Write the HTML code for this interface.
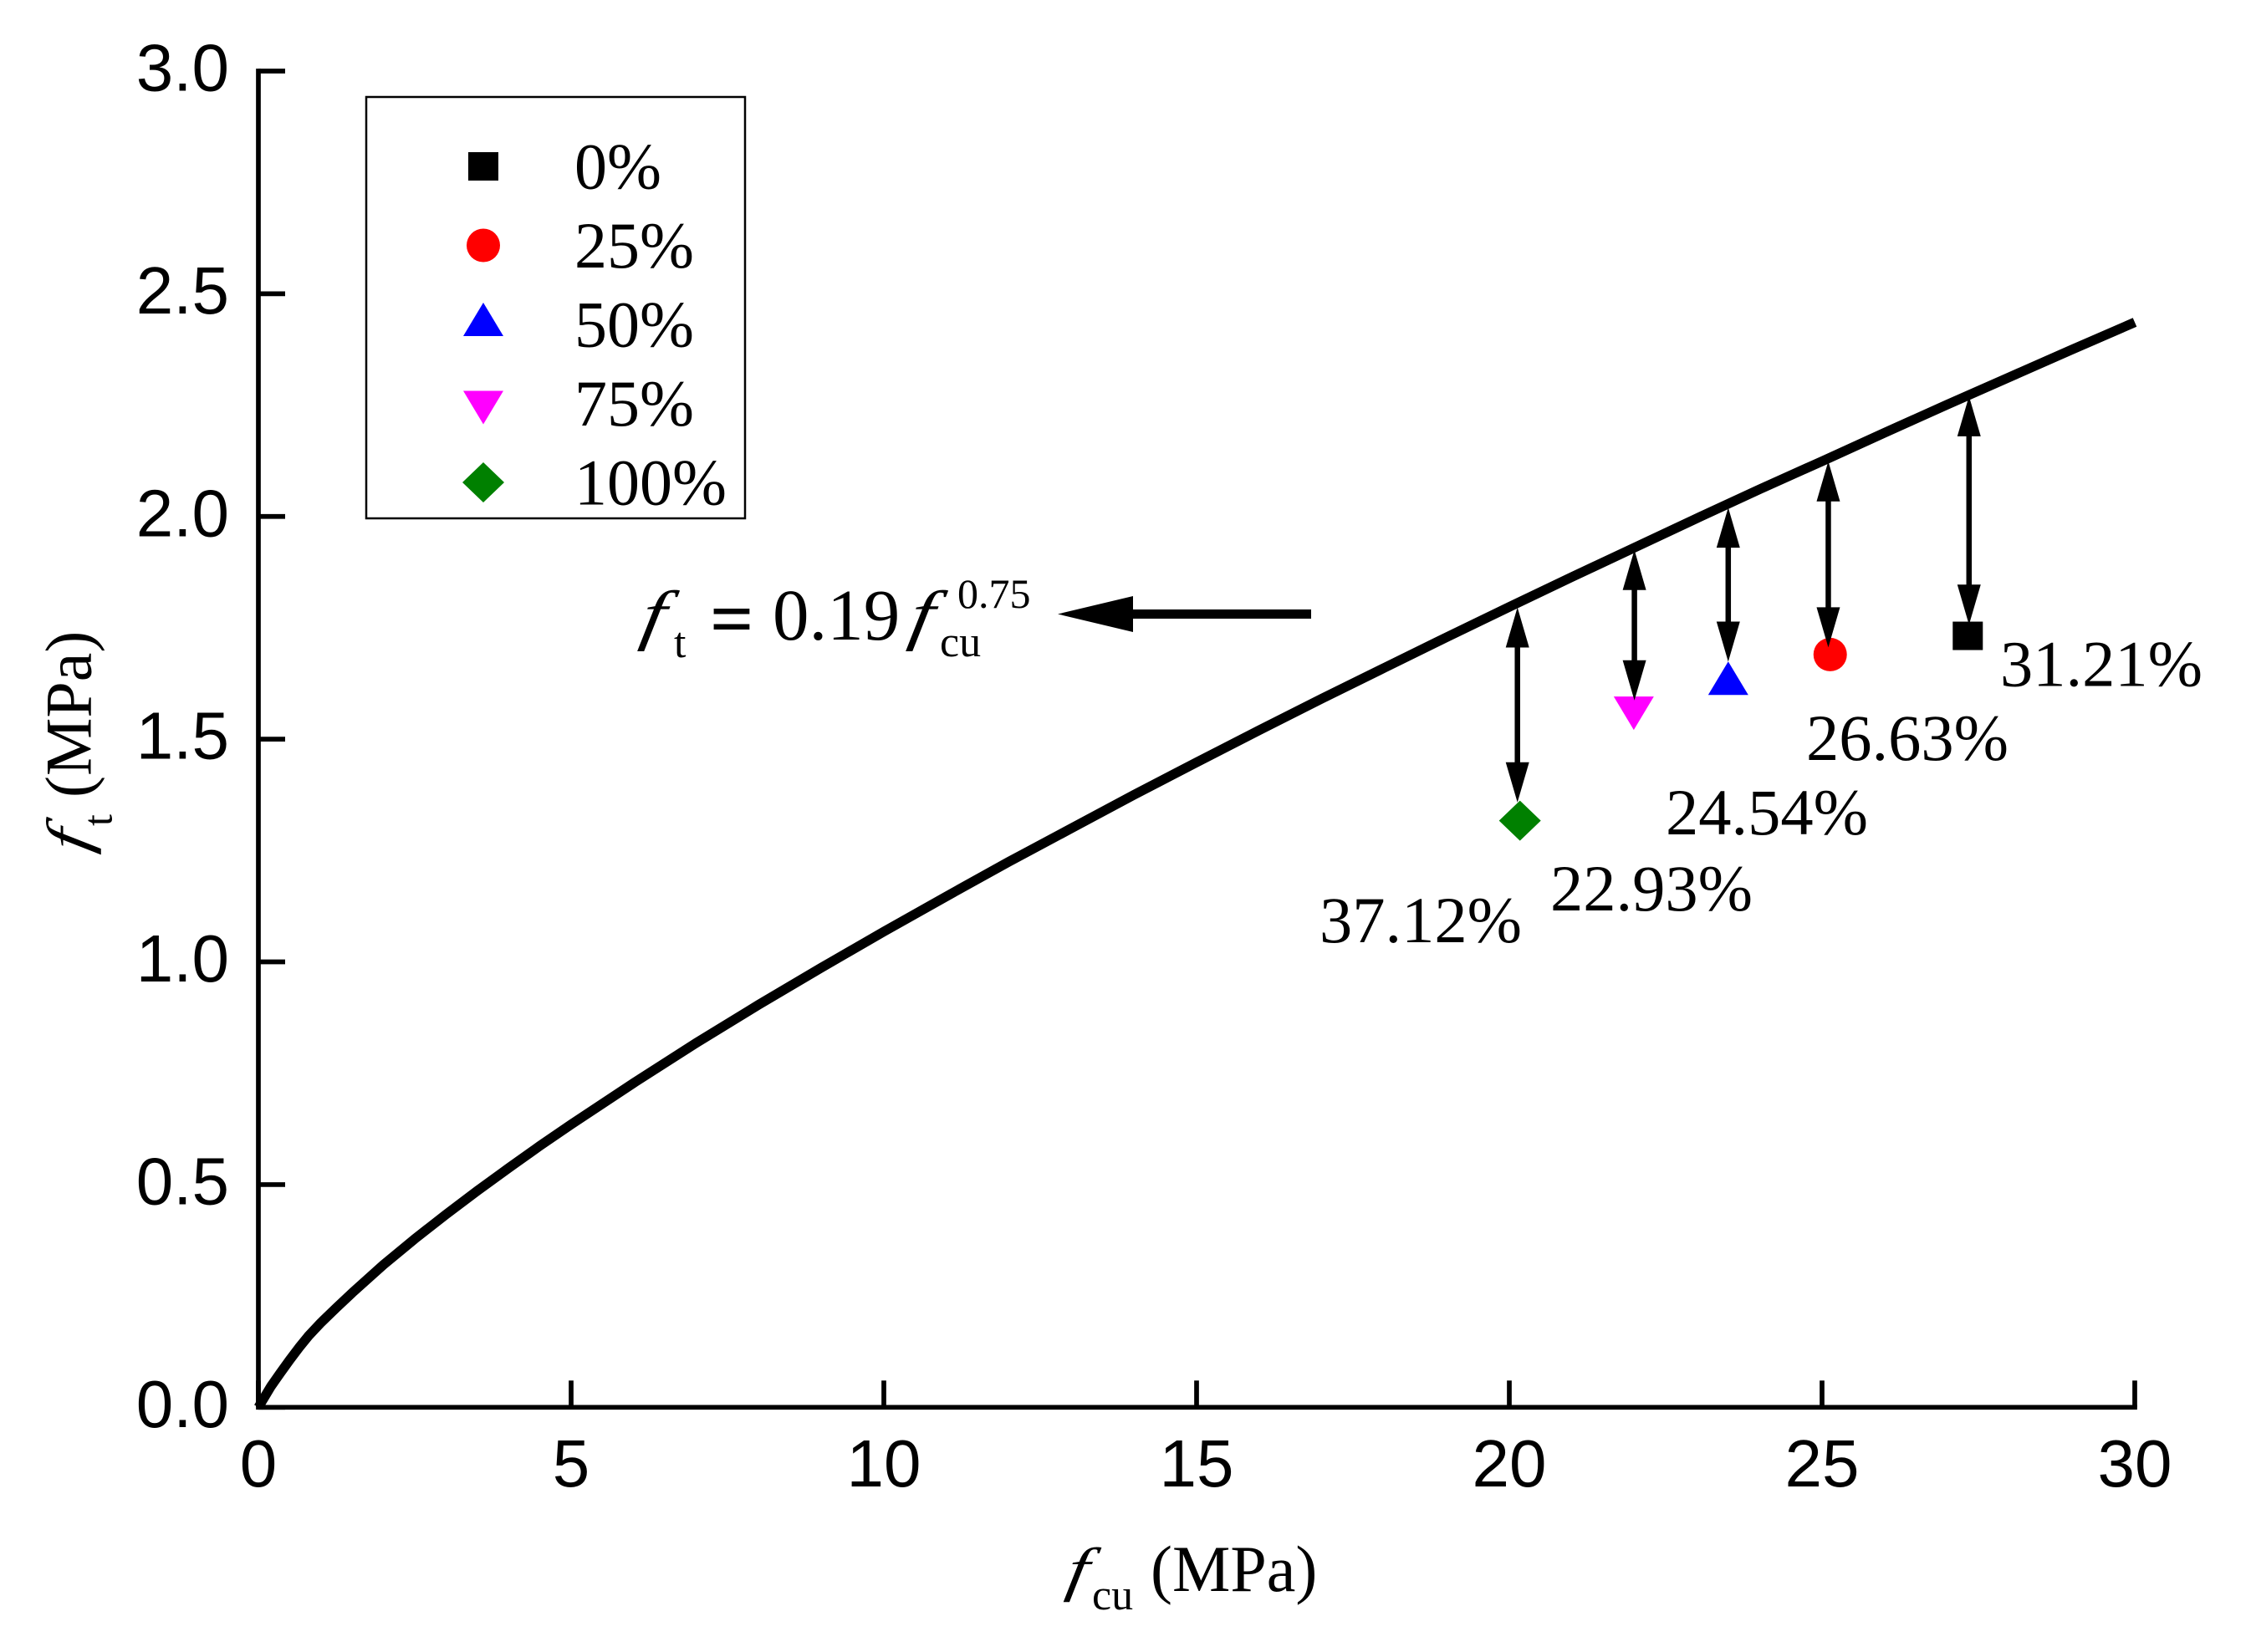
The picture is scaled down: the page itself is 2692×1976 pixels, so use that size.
<!DOCTYPE html>
<html lang="en">
<head>
<meta charset="utf-8">
<title>Tensile vs compressive strength</title>
<style>
html,body{margin:0;padding:0;background:#fff}
svg{display:block}
.sans{font-family:"Liberation Sans",sans-serif}
.serif{font-family:"Liberation Serif",serif}
text{fill:#000}
</style>
</head>
<body>
<svg id="chart" xmlns="http://www.w3.org/2000/svg" width="2692" height="1976" viewBox="0 0 2692 1976">
  <rect x="0" y="0" width="2692" height="1976" fill="#fff"/>
  <g id="axes"></g>
  <g id="curve-layer"></g>
  <g id="marker-layer"></g>
  <g id="arrow-layer"></g>

  <g class="serif" font-size="78.5">
    <text x="2392" y="820.5">31.21%</text>
    <text x="2160" y="909">26.63%</text>
    <text x="1992" y="998">24.54%</text>
    <text x="1854" y="1089">22.93%</text>
    <text x="1578" y="1127">37.12%</text>
  </g>

  <g class="serif">
    <text transform="translate(764,762) skewX(-10) scale(1.15,0.92)" font-size="87" font-style="italic">f</text>
    <text x="806" y="786" font-size="52">t</text>
    <text x="849" y="771" font-size="92" font-weight="bold">=</text>
    <text x="924" y="765" font-size="87">0.19</text>
    <text transform="translate(1085,762) skewX(-10) scale(1.15,0.92)" font-size="87" font-style="italic">f</text>
    <text x="1124" y="785" font-size="52">cu</text>
    <text x="1145" y="727" font-size="50">0.75</text>
    <polygon points="1265,734.5 1355,713 1355,756" fill="#000"/>
    <rect x="1350" y="729" width="218" height="11" fill="#000"/>
  </g>

  <g class="serif">
    <text transform="translate(1273.4,1901) skewX(-10) scale(1.15,0.92)" font-size="78" font-style="italic">f</text>
    <text x="1306" y="1925" font-size="52">cu</text>
    <text x="1376" y="1903" font-size="78">(MPa)</text>
  </g>

  <g class="serif" transform="translate(108.3,1025) rotate(-90)">
    <text transform="translate(4.2,-3) skewX(-10) scale(1.15,0.92)" font-size="78" font-style="italic">f</text>
    <text x="37" y="25" font-size="50">t</text>
    <text x="71" y="0" font-size="78">(MPa)</text>
  </g>

  <g id="legend">
    <rect x="438" y="116" width="453" height="504" fill="#fff" stroke="#000" stroke-width="2.5"/>
  </g>
</svg>

<script>
// Axis ticks
const xTickLabels = [0, 5, 10, 15, 20, 25, 30];
const yTickLabels = ['0.0', '0.5', '1.0', '1.5', '2.0', '2.5', '3.0'];

// Fitted strength curve
const curveX = [0, 0.2, 0.35, 0.5, 0.65, 0.8, 1, 1.25, 1.5, 2, 2.5, 3, 3.5, 4, 4.5, 5, 6, 7, 8, 9, 10, 11, 12, 13, 14, 15, 16, 17, 18, 19, 20, 21, 22, 23, 24, 25, 26, 27, 28, 29, 30];
const curveY = [0, 0.047, 0.077, 0.106, 0.134, 0.16, 0.19, 0.224, 0.257, 0.32, 0.378, 0.433, 0.486, 0.537, 0.587, 0.635, 0.728, 0.818, 0.904, 0.987, 1.068, 1.147, 1.225, 1.3, 1.375, 1.448, 1.52, 1.591, 1.66, 1.729, 1.797, 1.864, 1.93, 1.996, 2.061, 2.124, 2.188, 2.251, 2.313, 2.375, 2.436];

// Measured points
const seriesNames = ['0%', '25%', '50%', '75%', '100%'];
const seriesShapes = ['square', 'circle', 'triangle-up', 'triangle-down', 'diamond'];
const seriesColors = ['#000000', '#ff0000', '#0000ff', '#ff00ff', '#008000'];
const pointX = [27.33, 25.13, 23.5, 21.99, 20.17];
const pointY = [1.732, 1.69, 1.635, 1.56, 1.317];

// Double-headed gap arrows
const gapX = [27.35, 25.1, 23.5, 22, 20.13];
const gapTop = [2.27, 2.124, 2.02, 1.925, 1.796];
const gapBottom = [1.757, 1.706, 1.674, 1.587, 1.358];

const NS = 'http://www.w3.org/2000/svg';
const X0 = 309, X1 = 2553, Y0 = 1683.3, Y1 = 85;
const xMax = 30, yMax = 3;
function xScale(v) { return X0 + (X1 - X0) * v / xMax; }
function yScale(v) { return Y0 - (Y0 - Y1) * v / yMax; }

function make(tag, attrs, parent) {
  const el = document.createElementNS(NS, tag);
  for (const k in attrs) el.setAttribute(k, attrs[k]);
  parent.appendChild(el);
  return el;
}

function drawMarker(shape, color, cx, cy, parent) {
  let el;
  if (shape === 'square') {
    el = make('rect', { x: cx - 18, y: cy - 17, width: 36, height: 34, fill: color }, parent);
  } else if (shape === 'circle') {
    el = make('ellipse', { cx: cx, cy: cy, rx: 20, ry: 20, fill: color }, parent);
  } else if (shape === 'triangle-up') {
    el = make('polygon', { points: (cx - 24) + ',' + (cy + 19) + ' ' + (cx + 24) + ',' + (cy + 19) + ' ' + cx + ',' + (cy - 21), fill: color }, parent);
  } else if (shape === 'triangle-down') {
    el = make('polygon', { points: (cx - 24) + ',' + (cy - 19) + ' ' + (cx + 24) + ',' + (cy - 19) + ' ' + cx + ',' + (cy + 21), fill: color }, parent);
  } else {
    el = make('polygon', { points: (cx - 25) + ',' + cy + ' ' + cx + ',' + (cy - 24) + ' ' + (cx + 25) + ',' + cy + ' ' + cx + ',' + (cy + 24), fill: color }, parent);
  }
  return el;
}

const axes = document.getElementById('axes');
const axisLine = make('path', { d: 'M' + X0 + ' ' + Y1 + ' L' + X0 + ' ' + Y0 + ' L' + X1 + ' ' + Y0, fill: 'none', stroke: '#000', 'stroke-width': 5.7, 'stroke-linecap': 'square' }, axes);



xTickLabels.forEach(function (label) {
  const px = xScale(label);
  const tick = make('line', { x1: px, x2: px, y1: Y0, y2: Y0 - 32, stroke: '#000', 'stroke-width': 5.7 }, axes);
  
  
  const txt = make('text', { x: px, y: 1778, 'text-anchor': 'middle', 'font-size': 80, class: 'sans' }, axes);
  txt.textContent = label;
  
  
});

yTickLabels.forEach(function (label) {
  const py = yScale(parseFloat(label));
  const tick = make('line', { x1: X0, x2: X0 + 32, y1: py, y2: py, stroke: '#000', 'stroke-width': 5.7 }, axes);
  
  
  const txt = make('text', { x: 274, y: py + 23.5, 'text-anchor': 'end', 'font-size': 80, class: 'sans' }, axes);
  txt.textContent = label;
  
  
});

const curvePoints = curveX.map(function (v, i) { return xScale(v).toFixed(1) + ',' + yScale(curveY[i]).toFixed(1); }).join(' ');
const curve = make('polyline', { points: curvePoints, fill: 'none', stroke: '#000', 'stroke-width': 11.5, 'stroke-linejoin': 'round' }, document.getElementById('curve-layer'));



const markerLayer = document.getElementById('marker-layer');
pointX.forEach(function (v, i) {
  const m = drawMarker(seriesShapes[i], seriesColors[i], xScale(v), yScale(pointY[i]), markerLayer);
  
  
});

const arrowLayer = document.getElementById('arrow-layer');
gapX.forEach(function (v, i) {
  const px = xScale(v);
  const top = yScale(gapTop[i]);
  const bot = yScale(gapBottom[i]);
  const shaft = make('line', { x1: px, x2: px, y1: top + 20, y2: bot - 20, stroke: '#000', 'stroke-width': 6.5 }, arrowLayer);
  
  
  const up = make('polygon', { points: px + ',' + top + ' ' + (px - 14) + ',' + (top + 48) + ' ' + (px + 14) + ',' + (top + 48), fill: '#000' }, arrowLayer);
  
  
  const down = make('polygon', { points: px + ',' + bot + ' ' + (px - 14) + ',' + (bot - 48) + ' ' + (px + 14) + ',' + (bot - 48), fill: '#000' }, arrowLayer);
  
  
});

const legend = document.getElementById('legend');
seriesNames.forEach(function (name, i) {
  const shape = seriesShapes[i];
  const nudge = shape === 'triangle-up' ? -5 : (shape === 'triangle-down' ? 4 : 0);
  const rowY = 199 + 94.5 * i + nudge;
  const sw = drawMarker(shape, seriesColors[i], 578, rowY, legend);
  
  
  const txt = make('text', { x: 687, y: 225.5 + 94.5 * i, 'font-size': 78, class: 'serif' }, legend);
  txt.textContent = name;
  
  
});
</script>
</body>
</html>
